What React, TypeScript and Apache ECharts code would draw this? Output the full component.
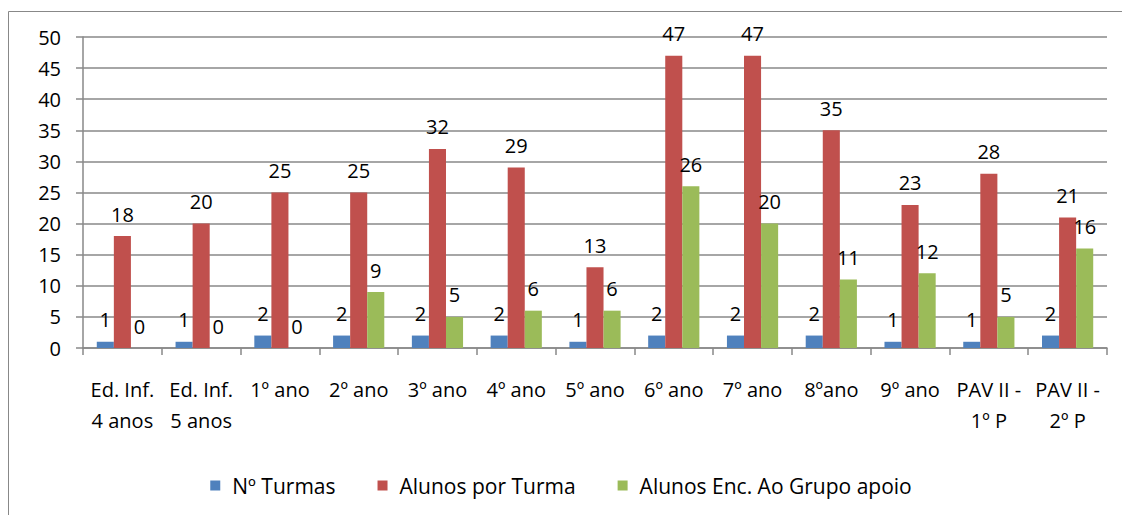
import React, { useEffect, useRef } from "react";
import * as echarts from "echarts";

const categories = [
  "Ed. Inf.\n4 anos",
  "Ed. Inf.\n5 anos",
  "1º ano",
  "2º ano",
  "3º ano",
  "4º ano",
  "5º ano",
  "6º ano",
  "7º ano",
  "8ºano",
  "9º ano",
  "PAV II -\n1º P",
  "PAV II -\n2º P",
];
const turmas = [1, 1, 2, 2, 2, 2, 1, 2, 2, 2, 1, 1, 2];
const alunosPorTurma = [18, 20, 25, 25, 32, 29, 13, 47, 47, 35, 23, 28, 21];
const alunosApoio = [0, 0, 0, 9, 5, 6, 6, 26, 20, 11, 12, 5, 16];
const seriesNames = ["Nº Turmas", "Alunos por Turma", "Alunos Enc. Ao Grupo apoio"];
const colors = ["#4F81BD", "#C0504D", "#9BBB59"];

const FONT = "'Open Sans', sans-serif";

export default function App() {
  const ref = useRef<HTMLDivElement>(null);
  useEffect(() => {
    document.body.style.margin = "0";
    const chart = echarts.init(ref.current!, null, { renderer: "svg" });
    const dataSets = [turmas, alunosPorTurma, alunosApoio];
    chart.setOption({
      animation: false,
      textStyle: { fontFamily: FONT },
      graphic: [
        {
          type: "rect",
          shape: { x: 8.5, y: 11.5, width: 1130, height: 520 },
          style: { fill: "none", stroke: "#888", lineWidth: 1 },
          silent: true,
        },
      ],
      grid: { left: 83, right: 15, top: 37, bottom: 167 },
      legend: {
        top: 470,
        left: "center",
        itemWidth: 10,
        itemHeight: 10,
        itemGap: 42,
        icon: "rect",
        formatter: "{t|{name}}",
        textStyle: {
          fontSize: 21,
          color: "#000",
          fontFamily: FONT,
          rich: { t: { fontSize: 21, color: "#000", fontFamily: FONT, padding: [0, 0, 0, 7] } },
        },
        data: seriesNames,
      },
      xAxis: {
        type: "category",
        data: categories,
        axisLine: { lineStyle: { color: "#888", width: 1.5 } },
        axisTick: { show: true, length: 7, alignWithLabel: false, lineStyle: { color: "#888", width: 1.5 } },
        axisLabel: {
          interval: 0,
          fontSize: 20,
          color: "#000",
          margin: 26,
          lineHeight: 31,
          fontFamily: FONT,
        },
      },
      yAxis: {
        type: "value",
        min: 0,
        max: 50,
        interval: 5,
        axisLine: { show: true, lineStyle: { color: "#888", width: 1.5 } },
        axisTick: { show: true, length: 7, lineStyle: { color: "#888", width: 1.5 } },
        splitLine: { lineStyle: { color: "#888", width: 1.5 } },
        axisLabel: { fontSize: 20, color: "#000", margin: 22, fontFamily: FONT },
      },
      series: seriesNames.map((name, i) => ({
        name,
        type: "bar",
        data: dataSets[i],
        barGap: "0%",
        barCategoryGap: "35%",
        itemStyle: { color: colors[i] },
        label: {
          show: true,
          position: "top",
          distance: 12,
          fontSize: 20,
          color: "#000",
          fontFamily: FONT,
        },
      })),
    });
    return () => chart.dispose();
  }, []);
  return <div ref={ref} style={{ width: 1122, height: 515 }} />;
}
